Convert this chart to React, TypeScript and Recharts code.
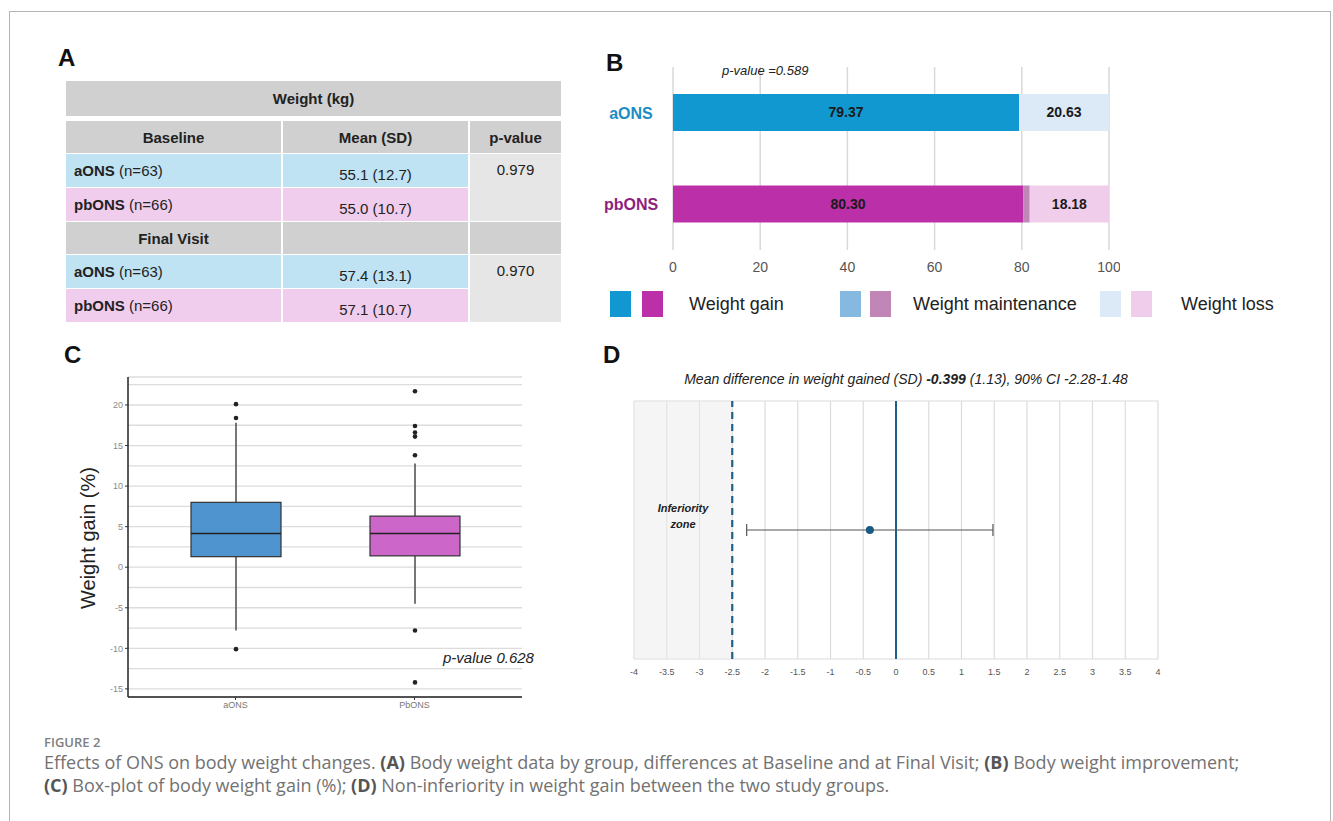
import React from 'react'
import {
  BarChart, Bar, XAxis, YAxis, CartesianGrid, LabelList, Cell,
  ComposedChart, Scatter, ErrorBar, ReferenceLine, ReferenceArea
} from 'recharts'

const FONT = '"Liberation Sans", Arial, sans-serif'

// A: weight (kg) by group
const groups = ['aONS', 'pbONS']
const groupN = [63, 66]
const baselineMean = [55.1, 55.0]
const baselineSD = [12.7, 10.7]
const finalMean = [57.4, 57.1]
const finalSD = [13.1, 10.7]
const tablePValues = [0.979, 0.970]

// B: body weight improvement (%)
const improvementGroups = ['aONS', 'pbONS']
const weightGain = [79.37, 80.30]
const weightMaintenance = [0, 1.52]
const weightLoss = [20.63, 18.18]
const improvementPValue = 0.589
const barTicks = [0, 20, 40, 60, 80, 100]
const legendLabels = ['Weight gain', 'Weight maintenance', 'Weight loss']

// C: weight gain (%) box plot
const boxGroups = ['aONS', 'PbONS']
const boxQ1 = [1.3, 1.4]
const boxMedian = [4.15, 4.15]
const boxQ3 = [8.0, 6.3]
const whiskerLow = [-7.8, -4.5]
const whiskerHigh = [17.8, 12.8]
const boxOutliers = [[20.1, 18.4, -10.1], [21.7, 17.4, 16.6, 16.1, 13.8, -7.8, -14.2]]
const boxTicks = [-15, -10, -5, 0, 5, 10, 15, 20]
const boxMinorGrid = [-12.5, -7.5, -2.5, 2.5, 7.5, 12.5, 17.5, 22.5]
const boxPValue = 0.628

// D: non-inferiority
const meanDifference = -0.399
const meanDifferenceSD = 1.13
const ciLow = -2.28
const ciHigh = 1.48
const nonInferiorityMargin = -2.5
const diffTicks = [-4, -3.5, -3, -2.5, -2, -1.5, -1, -0.5, 0, 0.5, 1, 1.5, 2, 2.5, 3, 3.5, 4]
const diffRows = [0, 1, 2, 3, 4, 5, 6, 7, 8]

const gainColor: Record<string, string> = { aONS: '#1198d1', pbONS: '#bb30a8' }
const maintColor: Record<string, string> = { aONS: '#86b9e0', pbONS: '#c086b6' }
const lossColor: Record<string, string> = { aONS: '#dce9f6', pbONS: '#f0cdeb' }
const groupLabelColor: Record<string, string> = { aONS: '#1c8cc3', pbONS: '#8e1f82' }
const boxFill: Record<string, string> = { aONS: '#4f93cf', PbONS: '#cc66c9' }
const rowBg: Record<string, string> = { aONS: '#bfe3f3', pbONS: '#f1cded' }

const improvementData = improvementGroups.map((g, i) => ({
  group: g, gain: weightGain[i], maint: weightMaintenance[i], loss: weightLoss[i]
}))

const boxData = boxGroups.map((g, i) => ({
  group: g, box: [boxQ1[i], boxQ3[i]], q1: boxQ1[i], q3: boxQ3[i],
  median: boxMedian[i], lo: whiskerLow[i], hi: whiskerHigh[i], out: boxOutliers[i]
}))

const diffData = [{ x: meanDifference, y: 4, ciErr: [meanDifference - ciLow, ciHigh - meanDifference] }]

const abs = (left: number, top: number, extra: React.CSSProperties = {}): React.CSSProperties => ({
  position: 'absolute', left, top, ...extra
})

const panelLetter = (t: string, left: number, top: number) => (
  <div style={abs(left, top, { fontSize: 24, fontWeight: 700, color: '#111', lineHeight: '24px' })}>{t}</div>
)

function WeightTable() {
  const L = 66, c1 = 282, c2 = 469, R = 561
  const gray = '#d0d0d0'
  const cell = (x: number, y: number, w: number, h: number, bg: string, content: React.ReactNode, align: 'center' | 'left' = 'center', pad = 0, dy = 0) => (
    <div style={abs(x, y, {
      width: w, height: h, background: bg, display: 'flex', alignItems: 'center',
      justifyContent: align === 'center' ? 'center' : 'flex-start', paddingLeft: pad,
      boxSizing: 'border-box', fontSize: 15, color: '#222', paddingTop: dy
    })}>{content}</div>
  )
  const sections = [
    { title: 'Baseline', top: 121, mean: baselineMean, sd: baselineSD, p: tablePValues[0], head: ['Mean (SD)', 'p-value'] },
    { title: 'Final Visit', top: 222, mean: finalMean, sd: finalSD, p: tablePValues[1], head: ['', ''] },
  ]
  return (
    <>
      {cell(L, 81, R - L, 35, gray, <b>Weight (kg)</b>)}
      {sections.map(s => (
        <React.Fragment key={s.title}>
          {cell(L, s.top, c1 - L - 1, 32, gray, <b>{s.title}</b>)}
          {cell(c1 + 1, s.top, c2 - c1 - 2, 32, gray, <b>{s.head[0]}</b>)}
          {cell(c2 + 1, s.top, R - c2 - 1, 32, gray, <b>{s.head[1]}</b>)}
          {groups.map((g, i) => {
            const y = s.top + 33 + i * 34
            return (
              <React.Fragment key={g}>
                {cell(L, y, c1 - L - 1, 33, rowBg[g], <span><b>{g}</b> (n={groupN[i]})</span>, 'left', 8, -2)}
                {cell(c1 + 1, y, c2 - c1 - 2, 33, rowBg[g], <span>{s.mean[i].toFixed(1)} ({s.sd[i].toFixed(1)})</span>, 'center', 0, 8)}
              </React.Fragment>
            )
          })}
          <div style={abs(c2 + 1, s.top + 33, {
            width: R - c2 - 1, height: 67, background: '#e6e6e6', textAlign: 'center',
            fontSize: 15, color: '#222', paddingTop: 7, boxSizing: 'border-box'
          })}>{s.p.toFixed(3)}</div>
        </React.Fragment>
      ))}
    </>
  )
}

const GroupTick = ({ x, y, payload }: any) => (
  <text x={x - 34} y={y} dy={6} textAnchor="middle" fill={groupLabelColor[payload.value]}
    fontWeight={700} fontSize={16} fontFamily={FONT}>{payload.value}</text>
)

function ImprovementChart() {
  return (
    <BarChart width={520} height={224} data={improvementData} layout="vertical"
      margin={{ top: 11, right: 11, bottom: 0, left: 0 }} style={{ fontFamily: FONT }}>
      <CartesianGrid horizontal={false} stroke="#d9d9d9" strokeWidth={1.5} />
      <XAxis type="number" domain={[0, 100]} ticks={barTicks} axisLine={false} tickLine={false}
        height={30} tickMargin={6} tick={{ fontSize: 14, fill: '#555' }} />
      <YAxis type="category" dataKey="group" width={73} axisLine={false} tickLine={false} tick={<GroupTick />} />
      <Bar dataKey="gain" stackId="s" barSize={37} isAnimationActive={false}>
        {improvementData.map(d => <Cell key={d.group} fill={gainColor[d.group]} />)}
        <LabelList dataKey="gain" position="center" fill="#1a1a1a" fontSize={14} fontWeight={700}
          formatter={(v: any) => Number(v).toFixed(2)} />
      </Bar>
      <Bar dataKey="maint" stackId="s" barSize={37} isAnimationActive={false}>
        {improvementData.map(d => <Cell key={d.group} fill={maintColor[d.group]} />)}
      </Bar>
      <Bar dataKey="loss" stackId="s" barSize={37} isAnimationActive={false}>
        {improvementData.map(d => <Cell key={d.group} fill={lossColor[d.group]} />)}
        <LabelList dataKey="loss" position="center" fill="#1a1a1a" fontSize={14} fontWeight={700}
          formatter={(v: any) => (Number(v) > 0 ? Number(v).toFixed(2) : '')} />
      </Bar>
    </BarChart>
  )
}

const BoxShape = (props: any) => {
  const { x, y, width, height, payload } = props
  const top = Math.min(y, y + height)
  const h = Math.abs(height)
  const ppu = h / (payload.q3 - payload.q1)
  const py = (v: number) => top + (payload.q3 - v) * ppu
  const cx = x + width / 2
  return (
    <g>
      <line x1={cx} x2={cx} y1={py(payload.hi)} y2={top} stroke="#555" strokeWidth={1.6} />
      <line x1={cx} x2={cx} y1={top + h} y2={py(payload.lo)} stroke="#555" strokeWidth={1.6} />
      <rect x={x} y={top} width={width} height={h} fill={boxFill[payload.group]} stroke="#333" strokeWidth={1.2} />
      <line x1={x} x2={x + width} y1={py(payload.median)} y2={py(payload.median)} stroke="#222" strokeWidth={1.6} />
      {payload.out.map((v: number, i: number) => (
        <circle key={i} cx={cx} cy={py(v)} r={2.3} fill="#222" />
      ))}
    </g>
  )
}

function BoxChart() {
  return (
    <ComposedChart width={460} height={355} data={boxData}
      margin={{ top: 12, right: 8, bottom: 3, left: 0 }} style={{ fontFamily: FONT }}>
      <CartesianGrid vertical={false} stroke="#dcdcdc" strokeWidth={1.3} />
      <CartesianGrid vertical={false} horizontalValues={boxMinorGrid} stroke="#dcdcdc" strokeWidth={1.3} />
      <XAxis dataKey="group" type="category" padding={{ left: 18, right: 18 }} height={20}
        tick={{ fontSize: 9, fill: '#777' }} tickSize={3}
        axisLine={{ stroke: '#222', strokeWidth: 1.5 }} tickLine={{ stroke: '#333' }} />
      <YAxis type="number" domain={[-16, 23.45]} ticks={boxTicks} allowDataOverflow width={58}
        tick={{ fontSize: 9, fill: '#8a8a8a' }} tickSize={3}
        axisLine={{ stroke: '#222', strokeWidth: 1.5 }} tickLine={{ stroke: '#333' }} />
      <Bar dataKey="box" barSize={90} shape={<BoxShape />} isAnimationActive={false} />
    </ComposedChart>
  )
}

function DiffChart() {
  return (
    <ComposedChart width={570} height={300} margin={{ top: 11, right: 12, bottom: 6, left: 34 }}
      style={{ fontFamily: FONT }}>
      <CartesianGrid stroke="#dcdcdc" strokeWidth={1.2} />
      <ReferenceArea x1={-4} x2={nonInferiorityMargin} y1={0} y2={8} fill="#ebebeb" fillOpacity={0.5} stroke="none" />
      <XAxis type="number" dataKey="x" domain={[-4, 4]} ticks={diffTicks} axisLine={false} tickLine={false}
        height={25} tickMargin={4} tick={{ fontSize: 9, fill: '#555' }} />
      <YAxis type="number" dataKey="y" domain={[0, 8]} ticks={diffRows} width={0}
        tick={false} axisLine={false} tickLine={false} />
      <ReferenceLine x={nonInferiorityMargin} stroke="#1f5f8b" strokeWidth={2.2} strokeDasharray="7 5" />
      <ReferenceLine x={0} stroke="#1f5f8b" strokeWidth={2} />
      <Scatter data={diffData} fill="#1a5a82" isAnimationActive={false}
        shape={(p: any) => <circle cx={p.cx} cy={p.cy} r={4} fill="#1a5a82" />}>
        <ErrorBar dataKey="ciErr" direction="x" width={6} stroke="#555" strokeWidth={1.2} />
      </Scatter>
    </ComposedChart>
  )
}

export default function App() {
  const legendSquares = [[610, 642], [840, 870], [1100, 1131]]
  const legendTextX = [689, 913, 1181]
  const legendKeys = [gainColor, maintColor, lossColor]
  const capBold: React.CSSProperties = { color: '#555' }
  return (
    <div style={abs(0, 0, { width: 1333, height: 821, background: '#fff', overflow: 'hidden', fontFamily: FONT })}>
      <div style={abs(9, 11, { width: 1322, height: 900, border: '1.5px solid #b4b4b4', boxSizing: 'border-box' })} />

      {panelLetter('A', 58, 46)}
      <WeightTable />

      {panelLetter('B', 606, 51)}
      <div style={abs(600, 56)}><ImprovementChart /></div>
      <div style={abs(722, 63, { fontSize: 13, fontStyle: 'italic', color: '#222' })}>
        p-value ={improvementPValue.toFixed(3)}
      </div>
      {legendLabels.map((l, i) => (
        <React.Fragment key={l}>
          {improvementGroups.map((g, j) => (
            <div key={g} style={abs(legendSquares[i][j], 291, { width: 21, height: 26, background: legendKeys[i][g] })} />
          ))}
          <div style={abs(legendTextX[i], 294, { fontSize: 18, color: '#222', whiteSpace: 'nowrap' })}>{l}</div>
        </React.Fragment>
      ))}

      {panelLetter('C', 64, 343)}
      <div style={abs(70, 365)}><BoxChart /></div>
      <div style={abs(88, 538, { transform: 'translate(-50%, -50%) rotate(-90deg)', fontSize: 20, color: '#222', whiteSpace: 'nowrap' })}>
        Weight gain (%)
      </div>
      <div style={abs(443, 649, { fontSize: 15, fontStyle: 'italic', color: '#222' })}>p-value {boxPValue.toFixed(3)}</div>

      {panelLetter('D', 603, 343)}
      <div style={abs(906, 371, { transform: 'translateX(-50%)', fontSize: 14, fontStyle: 'italic', color: '#222', whiteSpace: 'nowrap' })}>
        Mean difference in weight gained (SD) <b>{meanDifference.toFixed(3)}</b> ({meanDifferenceSD.toFixed(2)}), 90% CI {ciLow.toFixed(2)}-{ciHigh.toFixed(2)}
      </div>
      <div style={abs(600, 390)}><DiffChart /></div>
      <div style={abs(683, 500, { transform: 'translateX(-50%)', fontSize: 11, fontWeight: 700, fontStyle: 'italic', color: '#222', textAlign: 'center', lineHeight: '16px' })}>
        Inferiority<br />zone
      </div>

      <div style={abs(44, 733, { fontFamily: '"Open Sans", sans-serif', fontSize: 13, fontWeight: 600, color: '#808080' })}>FIGURE 2</div>
      <div style={abs(44, 751, { fontFamily: '"Open Sans", sans-serif', fontSize: 18, color: '#727272', lineHeight: '23px', width: 1285, whiteSpace: 'nowrap' })}>
        Effects of ONS on body weight changes. <b style={capBold}>(A)</b> Body weight data by group, differences at Baseline and at Final Visit; <b style={capBold}>(B)</b> Body weight improvement;<br />
        <b style={capBold}>(C)</b> Box-plot of body weight gain (%); <b style={capBold}>(D)</b> Non-inferiority in weight gain between the two study groups.
      </div>
    </div>
  )
}
